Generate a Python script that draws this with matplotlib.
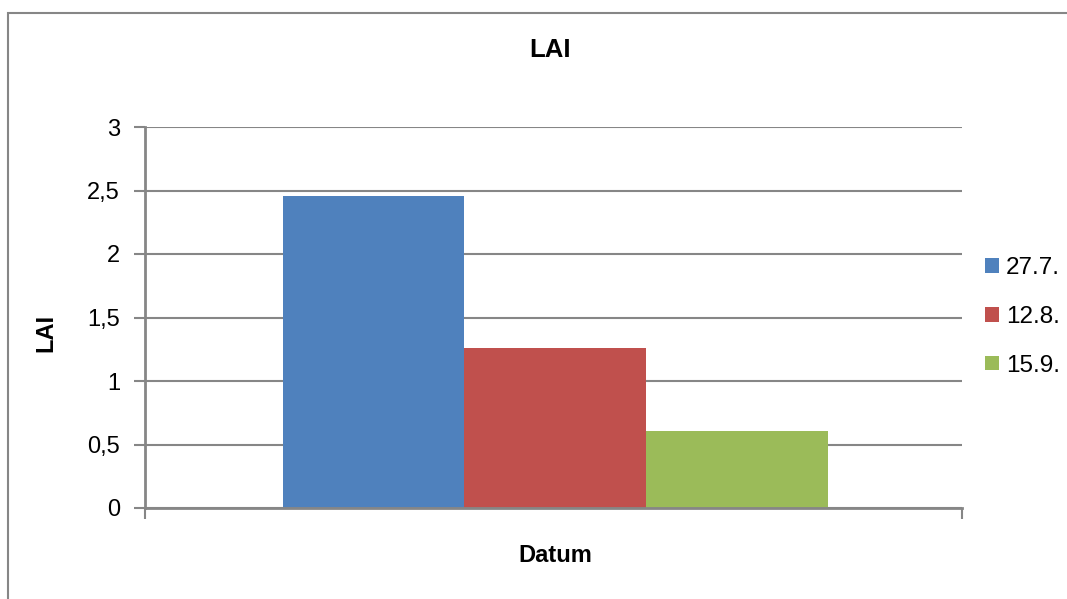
import matplotlib.pyplot as plt
from matplotlib.patches import Rectangle

plt.rcParams['font.family'] = ['Liberation Sans', 'DejaVu Sans']

dates = ['27.7.', '12.8.', '15.9.']
lai = [2.46, 1.26, 0.61]
colors = ['#4F81BD', '#C0504D', '#9BBB59']
yticks = [0, 0.5, 1, 1.5, 2, 2.5, 3]
ytick_labels = ['0', '0,5', '1', '1,5', '2', '2,5', '3']

W, H = 1067, 599
fig = plt.figure(figsize=(W / 100, H / 100), dpi=100)
ax = fig.add_axes([145 / W, 1 - 508 / H, 817 / W, 381 / H])

# outer chart border (runs past right/bottom edge)
fig.patches.append(Rectangle((8 / W, -0.1), 1.2, 1 - 13 / H + 0.1, transform=fig.transFigure,
                             fill=False, edgecolor='#868686', linewidth=1.5))

gray = '#868686'
bw = 0.2224
for i, (d, v, c) in enumerate(zip(dates, lai, colors)):
    ax.bar((i - 1) * bw + 0.002, v, width=bw, color=c, label=d, zorder=2)

ax.set_xlim(-0.5, 0.5)
ax.set_ylim(0, 3)
ax.set_yticks(yticks)
ax.set_yticklabels(ytick_labels, fontsize=17)
ax.set_xticks([-0.5, 0.5])
ax.set_xticklabels(['', ''])
ax.tick_params(axis='both', direction='out', length=8, width=1.5, color=gray, pad=10)
ax.yaxis.grid(True, color=gray, linewidth=1.5, zorder=1)
ax.set_axisbelow(True)
for s in ['top', 'right']:
    ax.spines[s].set_visible(False)
for s in ['left', 'bottom']:
    ax.spines[s].set_color(gray)
    ax.spines[s].set_linewidth(2)
    ax.spines[s].set_zorder(3)

fig.text(550 / W, 1 - 50 / H, 'LAI', fontsize=18.5, fontweight='bold', ha='center', va='center')
fig.text(46 / W, 1 - 333 / H, 'LAI', fontsize=17, fontweight='bold', ha='center', va='center', rotation=90)
fig.text(555 / W, 1 - 555 / H, 'Datum', fontsize=17, fontweight='bold', ha='center', va='center')

fig.legend(loc='center left', bbox_to_anchor=(973 / W, 1 - 317 / H), frameon=False, fontsize=17.5,
           handlelength=0.55, handleheight=0.55, handletextpad=0.3, labelspacing=1.1, borderpad=0)

fig.savefig('out.png', dpi=100)
